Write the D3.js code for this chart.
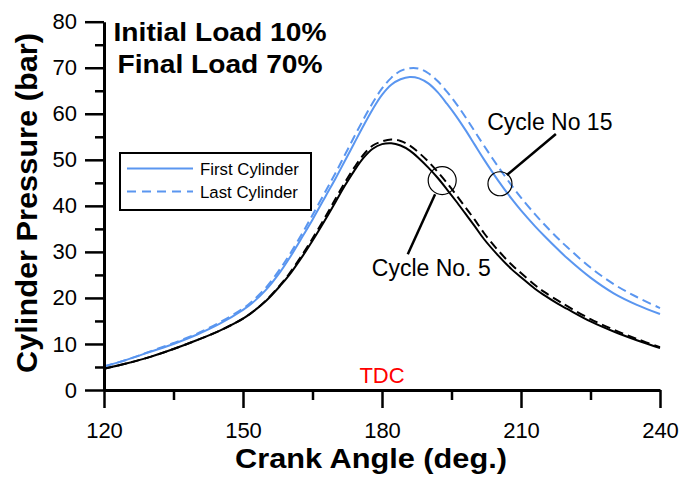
<!DOCTYPE html>
<html>
<head>
<meta charset="utf-8">
<script src="https://cdn.jsdelivr.net/npm/d3@7"></script>
<style>
  html, body { margin: 0; padding: 0; background: #fff; }
  svg { display: block; font-family: "Liberation Sans", Arial, sans-serif; }
</style>
</head>
<body>
<svg id="chart" width="683" height="477"></svg>
<script>
// ---------------- data ----------------
const angles = [120,125,130,135,140,145,150,152,155,158,160,163,165,168,170,172,174,176,178,180,182,184,186,188,190,192,194,196,198,200,202,205,208,210,213,215,218,220,225,230,235,240];

const firstCylCycle15 = [5.1,6.6,8.3,10.0,12.0,14.4,17.4,18.9,21.8,25.6,28.6,33.6,37.0,42.4,46.0,49.8,53.6,57.4,61.0,64.1,66.3,67.5,68.0,67.7,66.6,64.7,62.2,59.5,56.5,53.3,50.1,45.6,41.5,39.0,35.6,33.5,30.5,28.6,24.4,21.0,18.5,16.5];
const lastCylCycle15  = [5.1,6.6,8.4,10.2,12.2,14.7,17.7,19.3,22.3,26.3,29.3,34.4,38.0,43.5,47.2,51.1,55.0,58.8,62.4,65.5,67.8,69.3,69.9,69.8,68.8,67.1,64.8,62.2,59.3,56.2,53.1,48.6,44.4,41.8,38.2,36.0,32.9,31.0,26.6,23.0,20.2,17.8];
const firstCylCycle5  = [4.6,5.8,7.2,8.9,10.8,12.9,15.5,16.9,19.4,22.6,25.0,29.3,32.4,37.4,40.9,44.4,47.6,50.4,52.4,53.4,53.6,53.1,52.0,50.3,48.3,46.1,43.6,41.0,38.3,35.6,32.8,29.3,26.2,24.5,22.0,20.6,18.7,17.6,14.9,12.7,10.8,9.1];
const lastCylCycle5   = [4.6,5.8,7.2,8.9,10.8,12.9,15.5,16.9,19.5,22.8,25.3,29.7,32.9,38.0,41.6,45.1,48.3,51.1,53.1,54.0,54.4,54.1,53.1,51.5,49.6,47.4,45.0,42.4,39.7,37.0,34.1,30.4,27.2,25.4,22.8,21.3,19.4,18.2,15.4,13.1,11.1,9.3];

const xMajorTicks = [120,150,180,210,240];
const xMinorTicks = [135,165,195,225];
const yMajorTicks = [0,10,20,30,40,50,60,70,80];
const yMinorTicks = [5,15,25,35,45,55,65,75];

const legendLabels = ["First Cylinder", "Last Cylinder"];
const titleLines = ["Initial Load 10%", "Final Load 70%"];
const xTitle = "Crank Angle (deg.)";
const yTitle = "Cylinder Pressure (bar)";
const tdcLabel = "TDC";
const tdcAngle = 180;

// annotations in data coordinates: circle centre, leader line start/end, label anchor
const annotCycle15 = { label: "Cycle No 15", cx: 205.46, cy: 44.8, x1: 206.97, y1: 46.7, x2: 217.53, y2: 55.6, tx: 202.7, ty: 56.5 };
const annotCycle5  = { label: "Cycle No. 5", cx: 192.99, cy: 45.5, x1: 191.46, y1: 42.5, x2: 185.56, y2: 29.5, tx: 177.8, ty: 24.8 };

// ---------------- drawing ----------------
const BLUE = "#5a96f0";
const svg = d3.select("#chart");

const x = d3.scaleLinear().domain([120, 240]).range([104, 660]);
const y = d3.scaleLinear().domain([0, 80]).range([390, 21.7]);

// curves
const series = [
  { vals: firstCylCycle15, color: BLUE, dash: null },
  { vals: lastCylCycle15,  color: BLUE, dash: "9,5" },
  { vals: firstCylCycle5,  color: "#000", dash: null },
  { vals: lastCylCycle5,   color: "#000", dash: "9,5" }
];
const line = d3.line().x(d => x(d[0])).y(d => y(d[1])).curve(d3.curveCatmullRom.alpha(0.5));
series.forEach(s => {
  svg.append("path")
    .datum(angles.map((a, i) => [a, s.vals[i]]))
    .attr("d", line)
    .attr("fill", "none")
    .attr("stroke", s.color)
    .attr("stroke-width", 2)
    .attr("stroke-dasharray", s.dash);
});

// axes
function styleAxis(g) {
  g.select(".domain").attr("stroke-width", 3).attr("stroke", "#000");
  g.selectAll(".tick line").attr("stroke-width", 2.5).attr("stroke", "#000");
  g.selectAll(".tick text").attr("fill", "#000").attr("font-size", 22)
    .attr("font-family", "'Liberation Sans', Arial, sans-serif");
}
const yAxis = svg.append("g").attr("transform", `translate(${x(120)},0)`)
  .call(d3.axisLeft(y).tickValues(yMajorTicks).tickSize(19).tickSizeOuter(0).tickPadding(8).tickFormat(d3.format("d")));
styleAxis(yAxis);
const yMinor = svg.append("g").attr("transform", `translate(${x(120)},0)`)
  .call(d3.axisLeft(y).tickValues(yMinorTicks).tickSize(9).tickSizeOuter(0).tickFormat(""));
styleAxis(yMinor);
yMinor.select(".domain").remove();

const xAxis = svg.append("g").attr("transform", `translate(0,${y(0)})`)
  .call(d3.axisBottom(x).tickValues(xMajorTicks).tickSize(18).tickSizeOuter(0).tickPadding(14).tickFormat(d3.format("d")));
styleAxis(xAxis);
const xMinor = svg.append("g").attr("transform", `translate(0,${y(0)})`)
  .call(d3.axisBottom(x).tickValues(xMinorTicks).tickSize(10).tickSizeOuter(0).tickFormat(""));
styleAxis(xMinor);
xMinor.select(".domain").remove();

// axis titles
svg.append("text").attr("x", 371).attr("y", 468).attr("text-anchor", "middle")
  .attr("font-size", 28).attr("font-weight", "bold")
  .attr("textLength", 272).attr("lengthAdjust", "spacingAndGlyphs").text(xTitle);
svg.append("text").attr("transform", "translate(37,203) rotate(-90)").attr("text-anchor", "middle")
  .attr("font-size", 30).attr("font-weight", "bold")
  .attr("textLength", 340).attr("lengthAdjust", "spacingAndGlyphs").text(yTitle);

// title block
const titleWidths = [213, 205];
titleLines.forEach((t, i) => {
  svg.append("text").attr("x", 220).attr("y", 41 + i * 32).attr("text-anchor", "middle")
    .attr("font-size", 26).attr("font-weight", "bold")
    .attr("textLength", titleWidths[i]).attr("lengthAdjust", "spacingAndGlyphs").text(t);
});

// TDC
svg.append("text").attr("x", x(tdcAngle)).attr("y", 383).attr("text-anchor", "middle")
  .attr("font-size", 22).attr("fill", "#ff0000").text(tdcLabel);

// legend
const lg = svg.append("g");
lg.append("rect").attr("x", 120).attr("y", 153).attr("width", 191).attr("height", 57)
  .attr("fill", "#fff").attr("stroke", "#000").attr("stroke-width", 2);
legendLabels.forEach((lab, i) => {
  const yy = 168.5 + i * 23;
  lg.append("line").attr("x1", 127).attr("x2", 193).attr("y1", yy).attr("y2", yy)
    .attr("stroke", BLUE).attr("stroke-width", 2).attr("stroke-dasharray", i === 1 ? "9,6" : null);
  lg.append("text").attr("x", 200).attr("y", yy + 6).attr("font-size", 16.8).text(lab);
});

// annotations
[annotCycle15, annotCycle5].forEach((a, i) => {
  svg.append("circle").attr("cx", x(a.cx)).attr("cy", y(a.cy)).attr("r", i === 0 ? 12 : 14)
    .attr("fill", "none").attr("stroke", "#000").attr("stroke-width", 1.2);
  svg.append("line").attr("x1", x(a.x1)).attr("y1", y(a.y1)).attr("x2", x(a.x2)).attr("y2", y(a.y2))
    .attr("stroke", "#000").attr("stroke-width", 2.5);
  svg.append("text").attr("x", x(a.tx)).attr("y", y(a.ty)).attr("font-size", 23).text(a.label);
});
</script>
</body>
</html>
